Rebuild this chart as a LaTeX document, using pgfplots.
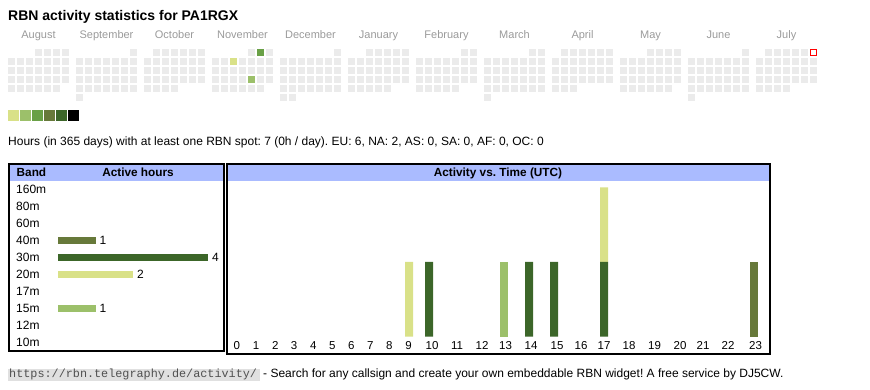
\documentclass[border=0pt]{standalone}
\usepackage{pgfplots}
\pgfplotsset{compat=1.18}
\usepackage{pgfplotstable}
\usepackage{fontspec}
\setmainfont{Liberation Sans}
\newfontfamily\monofont{Liberation Mono}
\frenchspacing
\definecolor{c1}{HTML}{D9E188}
\definecolor{c2}{HTML}{9CC06A}
\definecolor{c3}{HTML}{69A046}
\definecolor{c4}{HTML}{67793A}
\definecolor{c5}{HTML}{3C6629}
\definecolor{cellgray}{HTML}{EBEBEB}
\definecolor{hdrblue}{HTML}{AABBFF}
\definecolor{monthgray}{HTML}{9A9A9A}
\definecolor{footgray}{HTML}{E0E0E0}
\definecolor{urlgray}{HTML}{505050}
\newcommand{\fs}[1]{\fontsize{#1pt}{#1pt}\selectfont}

% calendar cells: month index (0=August), weekday column (1=Mon), week row
\pgfplotstableread[row sep=\\]{
m c r\\
0 4 1\\0 5 1\\0 6 1\\0 7 1\\
0 1 2\\0 2 2\\0 3 2\\0 4 2\\0 5 2\\0 6 2\\0 7 2\\
0 1 3\\0 2 3\\0 3 3\\0 4 3\\0 5 3\\0 6 3\\0 7 3\\
0 1 4\\0 2 4\\0 3 4\\0 4 4\\0 5 4\\0 6 4\\0 7 4\\
0 1 5\\0 2 5\\0 3 5\\0 4 5\\0 5 5\\0 6 5\\
1 7 1\\
1 1 2\\1 2 2\\1 3 2\\1 4 2\\1 5 2\\1 6 2\\1 7 2\\
1 1 3\\1 2 3\\1 3 3\\1 4 3\\1 5 3\\1 6 3\\1 7 3\\
1 1 4\\1 2 4\\1 3 4\\1 4 4\\1 5 4\\1 6 4\\1 7 4\\
1 1 5\\1 2 5\\1 3 5\\1 4 5\\1 5 5\\1 6 5\\1 7 5\\
1 1 6\\
2 2 1\\2 3 1\\2 4 1\\2 5 1\\2 6 1\\2 7 1\\
2 1 2\\2 2 2\\2 3 2\\2 4 2\\2 5 2\\2 6 2\\2 7 2\\
2 1 3\\2 2 3\\2 3 3\\2 4 3\\2 5 3\\2 6 3\\2 7 3\\
2 1 4\\2 2 4\\2 3 4\\2 4 4\\2 5 4\\2 6 4\\2 7 4\\
2 1 5\\2 2 5\\2 3 5\\2 4 5\\
3 5 1\\3 7 1\\
3 1 2\\3 2 2\\3 4 2\\3 5 2\\3 6 2\\3 7 2\\
3 1 3\\3 2 3\\3 3 3\\3 4 3\\3 5 3\\3 6 3\\3 7 3\\
3 1 4\\3 2 4\\3 3 4\\3 4 4\\3 6 4\\3 7 4\\
3 1 5\\3 2 5\\3 3 5\\3 4 5\\3 5 5\\3 6 5\\
4 7 1\\
4 1 2\\4 2 2\\4 3 2\\4 4 2\\4 5 2\\4 6 2\\4 7 2\\
4 1 3\\4 2 3\\4 3 3\\4 4 3\\4 5 3\\4 6 3\\4 7 3\\
4 1 4\\4 2 4\\4 3 4\\4 4 4\\4 5 4\\4 6 4\\4 7 4\\
4 1 5\\4 2 5\\4 3 5\\4 4 5\\4 5 5\\4 6 5\\4 7 5\\
4 1 6\\4 2 6\\
5 3 1\\5 4 1\\5 5 1\\5 6 1\\5 7 1\\
5 1 2\\5 2 2\\5 3 2\\5 4 2\\5 5 2\\5 6 2\\5 7 2\\
5 1 3\\5 2 3\\5 3 3\\5 4 3\\5 5 3\\5 6 3\\5 7 3\\
5 1 4\\5 2 4\\5 3 4\\5 4 4\\5 5 4\\5 6 4\\5 7 4\\
5 1 5\\5 2 5\\5 3 5\\5 4 5\\5 5 5\\
6 6 1\\6 7 1\\
6 1 2\\6 2 2\\6 3 2\\6 4 2\\6 5 2\\6 6 2\\6 7 2\\
6 1 3\\6 2 3\\6 3 3\\6 4 3\\6 5 3\\6 6 3\\6 7 3\\
6 1 4\\6 2 4\\6 3 4\\6 4 4\\6 5 4\\6 6 4\\6 7 4\\
6 1 5\\6 2 5\\6 3 5\\6 4 5\\6 5 5\\
7 6 1\\7 7 1\\
7 1 2\\7 2 2\\7 3 2\\7 4 2\\7 5 2\\7 6 2\\7 7 2\\
7 1 3\\7 2 3\\7 3 3\\7 4 3\\7 5 3\\7 6 3\\7 7 3\\
7 1 4\\7 2 4\\7 3 4\\7 4 4\\7 5 4\\7 6 4\\7 7 4\\
7 1 5\\7 2 5\\7 3 5\\7 4 5\\7 5 5\\7 6 5\\7 7 5\\
7 1 6\\
8 2 1\\8 3 1\\8 4 1\\8 5 1\\8 6 1\\8 7 1\\
8 1 2\\8 2 2\\8 3 2\\8 4 2\\8 5 2\\8 6 2\\8 7 2\\
8 1 3\\8 2 3\\8 3 3\\8 4 3\\8 5 3\\8 6 3\\8 7 3\\
8 1 4\\8 2 4\\8 3 4\\8 4 4\\8 5 4\\8 6 4\\8 7 4\\
8 1 5\\8 2 5\\8 3 5\\
9 4 1\\9 5 1\\9 6 1\\9 7 1\\
9 1 2\\9 2 2\\9 3 2\\9 4 2\\9 5 2\\9 6 2\\9 7 2\\
9 1 3\\9 2 3\\9 3 3\\9 4 3\\9 5 3\\9 6 3\\9 7 3\\
9 1 4\\9 2 4\\9 3 4\\9 4 4\\9 5 4\\9 6 4\\9 7 4\\
9 1 5\\9 2 5\\9 3 5\\9 4 5\\9 5 5\\9 6 5\\
10 7 1\\
10 1 2\\10 2 2\\10 3 2\\10 4 2\\10 5 2\\10 6 2\\10 7 2\\
10 1 3\\10 2 3\\10 3 3\\10 4 3\\10 5 3\\10 6 3\\10 7 3\\
10 1 4\\10 2 4\\10 3 4\\10 4 4\\10 5 4\\10 6 4\\10 7 4\\
10 1 5\\10 2 5\\10 3 5\\10 4 5\\10 5 5\\10 6 5\\10 7 5\\
10 1 6\\
11 2 1\\11 3 1\\11 4 1\\11 5 1\\11 6 1\\
11 1 2\\11 2 2\\11 3 2\\11 4 2\\11 5 2\\11 6 2\\11 7 2\\
11 1 3\\11 2 3\\11 3 3\\11 4 3\\11 5 3\\11 6 3\\11 7 3\\
11 1 4\\11 2 4\\11 3 4\\11 4 4\\11 5 4\\11 6 4\\11 7 4\\
11 1 5\\11 2 5\\11 3 5\\11 4 5\\
}\calcells

% activity per hour (UTC): pos = column position of the hour in the table
\pgfplotstableread{
pos hour b30 b20 b15 b40
409 9 0 1 0 0
429 10 1 0 0 0
504 13 0 0 1 0
529 14 1 0 0 0
554 15 1 0 0 0
604 17 1 1 0 0
754 23 0 0 0 1
}\hourdata

\begin{document}
\begin{tikzpicture}
\useasboundingbox (0pt,0pt) rectangle (870pt,-390pt);

% ---------- calendar ----------
\begin{axis}[at={(0pt,0pt)}, anchor=north west, scale only axis,
  width=870pt, height=130pt, xmin=0, xmax=870, ymin=0, ymax=130,
  y dir=reverse, hide axis, clip=false]
\addplot[only marks, color=cellgray, mark=square*, mark size=3.35pt,
  mark options={draw=cellgray, fill=cellgray, line width=0pt}]
  table[x expr=2.5+68*\thisrow{m}+9*\thisrow{c}, y expr=43.5+9*\thisrow{r}] {\calcells};
\addplot[only marks, color=c3, mark=square*, mark size=3.35pt, mark options={draw=c3, fill=c3, line width=0pt}]
  table[row sep=\\, x expr=2.5+68*\thisrow{m}+9*\thisrow{c}, y expr=43.5+9*\thisrow{r}] {m c r\\3 6 1\\};
\addplot[only marks, color=c1, mark=square*, mark size=3.35pt, mark options={draw=c1, fill=c1, line width=0pt}]
  table[row sep=\\, x expr=2.5+68*\thisrow{m}+9*\thisrow{c}, y expr=43.5+9*\thisrow{r}] {m c r\\3 3 2\\};
\addplot[only marks, color=c2, mark=square*, mark size=3.35pt, mark options={draw=c2, fill=c2, line width=0pt}]
  table[row sep=\\, x expr=2.5+68*\thisrow{m}+9*\thisrow{c}, y expr=43.5+9*\thisrow{r}] {m c r\\3 5 4\\};
\addplot[only marks, color=red, mark=square*, mark size=3.15pt, mark options={draw=red, fill=white, line width=1pt}]
  table[row sep=\\, x expr=2.5+68*\thisrow{m}+9*\thisrow{c}, y expr=43.5+9*\thisrow{r}] {m c r\\11 7 1\\};
% colour scale swatches
\addplot[only marks, color=c1, mark=square*, mark size=5pt, mark options={draw=c1, fill=c1, line width=0pt}] coordinates {(13,115.9)};
\addplot[only marks, color=c2, mark=square*, mark size=5pt, mark options={draw=c2, fill=c2, line width=0pt}] coordinates {(25,115.9)};
\addplot[only marks, color=c3, mark=square*, mark size=5pt, mark options={draw=c3, fill=c3, line width=0pt}] coordinates {(37,115.9)};
\addplot[only marks, color=c4, mark=square*, mark size=5pt, mark options={draw=c4, fill=c4, line width=0pt}] coordinates {(49,115.9)};
\addplot[only marks, color=c5, mark=square*, mark size=5pt, mark options={draw=c5, fill=c5, line width=0pt}] coordinates {(61,115.9)};
\addplot[only marks, color=black, mark=square*, mark size=5pt, mark options={draw=black, fill=black, line width=0pt}] coordinates {(73,115.9)};
\begin{scope}[every node/.style={anchor=base, inner sep=0pt, text=monthgray, font=\fs{11}}]
\node at (axis cs:38.5,39) {August};
\node at (axis cs:106.5,39) {September};
\node at (axis cs:174.5,39) {October};
\node at (axis cs:242.5,39) {November};
\node at (axis cs:310.5,39) {December};
\node at (axis cs:378.5,39) {January};
\node at (axis cs:446.5,39) {February};
\node at (axis cs:514.5,39) {March};
\node at (axis cs:582.5,39) {April};
\node at (axis cs:650.5,39) {May};
\node at (axis cs:718.5,39) {June};
\node at (axis cs:786.5,39) {July};
\end{scope}
\end{axis}

% ---------- texts ----------
\node[anchor=base west, inner sep=0pt, font=\bfseries\fs{14}] at (8pt,-20.7pt) {RBN activity statistics for PA1RGX};
\node[anchor=base west, inner sep=0pt, font=\fs{12}] at (8pt,-146pt) {Hours (in 365 days) with at least one RBN spot: 7 (0h / day). EU: 6, NA: 2, AS: 0, SA: 0, AF: 0, OC: 0};

% ---------- headers ----------
\fill[hdrblue] (10pt,-165pt) rectangle (223pt,-181pt);
\fill[hdrblue] (228pt,-165pt) rectangle (768.7pt,-181pt);
\node[anchor=base west, inner sep=0pt, font=\bfseries\fs{11.8}] at (16.5pt,-177pt) {Band};
\node[anchor=base, inner sep=0pt, font=\bfseries\fs{11.8}] at (138pt,-177pt) {Active hours};
\node[anchor=base, inner sep=0pt, font=\bfseries\fs{11.8}] at (498pt,-177pt) {Activity vs. Time (UTC)};

% ---------- band bars ----------
\begin{axis}[at={(58pt,-180.8pt)}, anchor=north west, scale only axis,
  width=162pt, height=170pt, xmin=0, xmax=4.32, ymin=-0.5, ymax=9.5,
  y dir=reverse, xbar, bar width=7pt, clip=false,
  /pgf/number format/assume math mode=true,
  axis line style={draw=none}, tick style={draw=none}, major tick length=0pt,
  xtick=\empty, ytick={0,1,2,3,4,5,6,7,8,9},
  yticklabels={160m,80m,60m,40m,30m,20m,17m,15m,12m,10m},
  yticklabel style={anchor=west, inner sep=0pt, xshift=-42pt, font=\fs{12}},
  nodes near coords,
  every node near coord/.append style={anchor=west, inner sep=0pt, xshift=4pt, text=black, font=\fs{12}}]
\addplot[fill=c4, draw=none, bar shift=0pt] coordinates {(1,3)};
\addplot[fill=c5, draw=none, bar shift=0pt] coordinates {(4,4)};
\addplot[fill=c1, draw=none, bar shift=0pt] coordinates {(2,5)};
\addplot[fill=c2, draw=none, bar shift=0pt] coordinates {(1,7)};
\end{axis}

% ---------- activity vs time ----------
\begin{axis}[at={(228pt,-181pt)}, anchor=north west, scale only axis,
  width=540pt, height=155.7pt, xmin=228, xmax=768, ymin=0, ymax=2.0843,
  ybar stacked, bar width=8pt, clip=false,
  axis line style={draw=none}, tick style={draw=none}, major tick length=0pt,
  ytick=\empty,
  xtick={236.7,256,275.3,294,313.3,332.3,351.3,370.3,389.3,408.5,432,457,482,505.5,531,557,581,604,629,654.5,680,703,728,755.5},
  xticklabels={0,1,2,3,4,5,6,7,8,9,10,11,12,13,14,15,16,17,18,19,20,21,22,23},
  xticklabel style={font=\fs{11.5}, yshift=-1pt}]
\addplot[fill=c5, draw=none] table[x=pos, y=b30] {\hourdata};
\addplot[fill=c1, draw=none] table[x=pos, y=b20] {\hourdata};
\addplot[fill=c2, draw=none] table[x=pos, y=b15] {\hourdata};
\addplot[fill=c4, draw=none] table[x=pos, y=b40] {\hourdata};
\end{axis}

% ---------- frames ----------
\draw[line width=2pt] (9pt,-164pt) rectangle (224pt,-351pt);
\draw[line width=2pt] (227pt,-164pt) rectangle (769.7pt,-354pt);

% ---------- footer ----------
\fill[footgray] (8pt,-369pt) rectangle (259.5pt,-381pt);
\node[anchor=base west, inner sep=0pt, text=urlgray, font=\monofont\fs{11.8}] at (9pt,-377.7pt) {https://rbn.telegraphy.de/activity/};
\node[anchor=base west, inner sep=0pt, font=\fs{12}] at (263pt,-377.7pt) {- Search for any callsign and create your own embeddable RBN widget! A free service by DJ5CW.};
\end{tikzpicture}
\end{document}
